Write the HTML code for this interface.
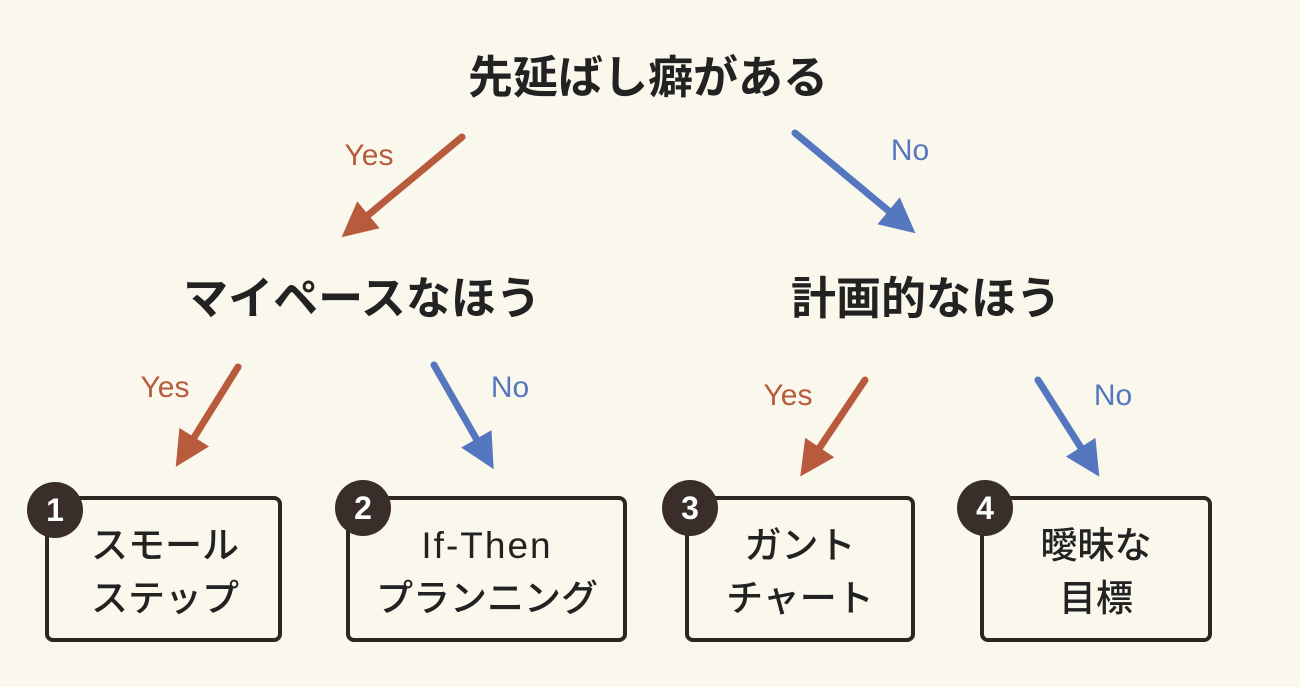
<!DOCTYPE html>
<html><head><meta charset="utf-8"><style>
body{margin:0;width:1300px;height:682px;background:#faf7ec;overflow:hidden;font-family:"Liberation Sans","Noto Sans CJK JP",sans-serif}
</style></head><body>
<svg width="1300" height="682" viewBox="0 0 1300 682" xmlns="http://www.w3.org/2000/svg">
<defs>
<marker id="ao" viewBox="0 0 10 10" refX="5" refY="5" markerWidth="5" markerHeight="5" orient="auto"><path d="M0,0 L10,5 L0,10 z" fill="#b85a3c"/></marker>
<marker id="ab" viewBox="0 0 10 10" refX="5" refY="5" markerWidth="5" markerHeight="5" orient="auto"><path d="M0,0 L10,5 L0,10 z" fill="#5577c0"/></marker>
</defs>
<g font-family="'Liberation Sans','Noto Sans CJK JP',sans-serif" fill="#222" text-anchor="middle">
<text x="648" y="93" font-size="45" font-weight="bold">先延ばし癖がある</text>
<text x="362" y="314" font-size="45" font-weight="bold">マイペースなほう</text>
<text x="926" y="314" font-size="45" font-weight="bold">計画的なほう</text>
</g>
<g stroke-width="7" stroke-linecap="round">
<line x1="462" y1="137" x2="355" y2="226" stroke="#b85a3c" marker-end="url(#ao)"/>
<line x1="795" y1="133" x2="902" y2="222" stroke="#5577c0" marker-end="url(#ab)"/>
<line x1="238" y1="367" x2="185" y2="452" stroke="#b85a3c" marker-end="url(#ao)"/>
<line x1="434" y1="365" x2="485" y2="454" stroke="#5577c0" marker-end="url(#ab)"/>
<line x1="865" y1="380" x2="810" y2="462" stroke="#b85a3c" marker-end="url(#ao)"/>
<line x1="1038" y1="380" x2="1090" y2="462" stroke="#5577c0" marker-end="url(#ab)"/>
</g>
<g font-family="'Liberation Sans Narrow','Liberation Sans',sans-serif" font-size="30" text-anchor="middle">
<text x="369" y="165" fill="#b85a3c">Yes</text>
<text x="910" y="160" fill="#5577c0">No</text>
<text x="165" y="397" fill="#b85a3c">Yes</text>
<text x="510" y="397" fill="#5577c0">No</text>
<text x="788" y="405" fill="#b85a3c">Yes</text>
<text x="1113" y="405" fill="#5577c0">No</text>
</g>
<g fill="none" stroke="#2e2622" stroke-width="4">
<rect x="47" y="498" width="233" height="142" rx="6"/>
<rect x="348" y="498" width="277" height="142" rx="6"/>
<rect x="687" y="498" width="226" height="142" rx="6"/>
<rect x="982" y="498" width="228" height="142" rx="6"/>
</g>
<g fill="#3a2e2a">
<circle cx="55" cy="510" r="28"/><circle cx="363" cy="508" r="28"/>
<circle cx="690" cy="508" r="28"/><circle cx="985" cy="508" r="28"/>
</g>
<g fill="#fff" font-size="32" font-weight="bold" text-anchor="middle">
<text x="55" y="521">1</text><text x="363" y="519">2</text>
<text x="690" y="519">3</text><text x="985" y="519">4</text>
</g>
<g fill="#222" font-size="37" text-anchor="middle" font-weight="500" font-family="'Liberation Sans','Noto Sans CJK JP',sans-serif">
<text x="165" y="558">スモール</text><text x="165" y="611">ステップ</text>
<text x="487" y="558" letter-spacing="2">If-Then</text><text x="487" y="611">プランニング</text>
<text x="800" y="558">ガント</text><text x="800" y="611">チャート</text>
<text x="1096" y="558">曖昧な</text><text x="1096" y="611">目標</text>
</g>
</svg>
</body></html>
